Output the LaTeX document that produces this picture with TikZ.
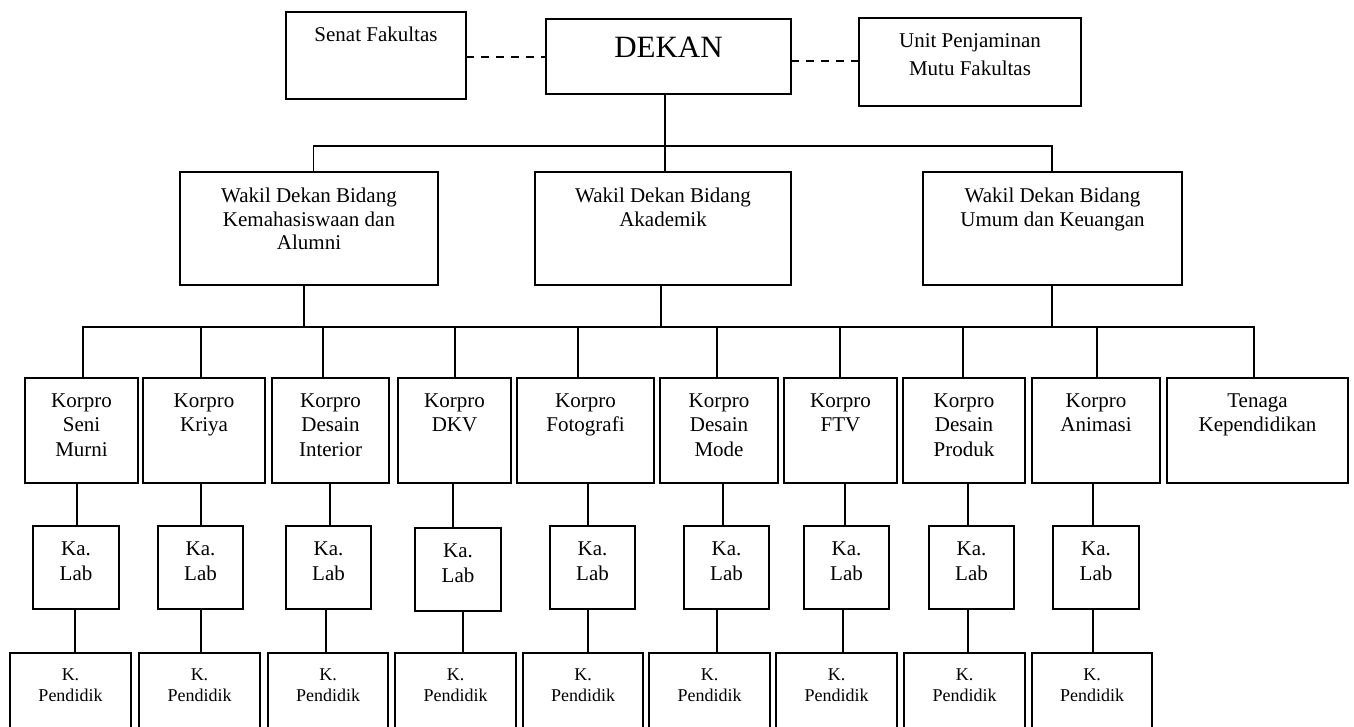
\documentclass[tikz,border=0pt]{standalone}
\usepackage{fontspec}
\setmainfont{Liberation Serif}
\newcommand\bxt[6]{\parbox[c][#2pt][t]{#1pt}{\centering\fontsize{#4pt}{#5pt}\selectfont\rule{0pt}{#3pt}\ignorespaces#6\par}}
\begin{document}
\begin{tikzpicture}[x=1pt,y=-1pt,
  box/.style={draw, line width=1.5pt, inner sep=0pt, outer sep=0pt, anchor=north west},
  conn/.style={line width=1.5pt},
  dashconn/.style={line width=1.5pt, dash pattern=on 8pt off 7pt}]
\useasboundingbox (0,0) rectangle (1354,727);
\clip (0,0) rectangle (1354,727);
% top level
\node[box] (senat) at (286,12) {\bxt{180}{87}{30}{21}{24}{Senat Fakultas}};
\node[box] (dekan) at (546,19) {\bxt{245}{75}{39}{31}{34}{DEKAN}};
\node[box] (upm) at (859,18) {\bxt{222}{88}{30}{21}{28}{Unit Penjaminan\\Mutu Fakultas}};
% wakil dekan
\node[box] (w1) at (180,172) {\bxt{258}{113}{31}{21}{23.3}{Wakil Dekan Bidang\\Kemahasiswaan dan\\Alumni}};
\node[box] (w2) at (535,172) {\bxt{256}{113}{31}{21}{23.3}{Wakil Dekan Bidang\\Akademik}};
\node[box] (w3) at (923,172) {\bxt{259}{113}{31}{21}{23.3}{Wakil Dekan Bidang\\Umum dan Keuangan}};
% korpro
\node[box] (k1) at (25,378) {\bxt{113}{105}{29}{21}{24.5}{Korpro\\Seni\\Murni}};
\node[box] (k2) at (143,378) {\bxt{122}{105}{29}{21}{24.5}{Korpro\\Kriya}};
\node[box] (k3) at (272,378) {\bxt{117}{105}{29}{21}{24.5}{Korpro\\Desain\\Interior}};
\node[box] (k4) at (398,378) {\bxt{113}{105}{29}{21}{24.5}{Korpro\\DKV}};
\node[box] (k5) at (517,378) {\bxt{137}{105}{29}{21}{24.5}{Korpro\\Fotografi}};
\node[box] (k6) at (660,378) {\bxt{118}{105}{29}{21}{24.5}{Korpro\\Desain\\Mode}};
\node[box] (k7) at (784,378) {\bxt{113}{105}{29}{21}{24.5}{Korpro\\FTV}};
\node[box] (k8) at (903,378) {\bxt{122}{105}{29}{21}{24.5}{Korpro\\Desain\\Produk}};
\node[box] (k9) at (1032,378) {\bxt{128}{105}{29}{21}{24.5}{Korpro\\Animasi}};
\node[box] (k10) at (1167,378) {\bxt{181}{105}{29}{21}{24.5}{Tenaga\\Kependidikan}};
% ka. lab
\node[box] (l1) at (33,526) {\bxt{86}{83}{29}{21}{25}{Ka.\\Lab}};
\node[box] (l2) at (158,526) {\bxt{85}{83}{29}{21}{25}{Ka.\\Lab}};
\node[box] (l3) at (286,526) {\bxt{85}{83}{29}{21}{25}{Ka.\\Lab}};
\node[box] (l4) at (415,528) {\bxt{86}{83}{29}{21}{25}{Ka.\\Lab}};
\node[box] (l5) at (550,526) {\bxt{85}{83}{29}{21}{25}{Ka.\\Lab}};
\node[box] (l6) at (684,526) {\bxt{85}{83}{29}{21}{25}{Ka.\\Lab}};
\node[box] (l7) at (804,526) {\bxt{85}{83}{29}{21}{25}{Ka.\\Lab}};
\node[box] (l8) at (929,526) {\bxt{85}{83}{29}{21}{25}{Ka.\\Lab}};
\node[box] (l9) at (1053,526) {\bxt{86}{83}{29}{21}{25}{Ka.\\Lab}};
% k. pendidik
\node[box] (p1) at (10,653) {\bxt{121}{95}{27}{18}{21}{K.\\Pendidik}};
\node[box] (p2) at (139,653) {\bxt{121}{95}{27}{18}{21}{K.\\Pendidik}};
\node[box] (p3) at (268,653) {\bxt{120}{95}{27}{18}{21}{K.\\Pendidik}};
\node[box] (p4) at (395,653) {\bxt{121}{95}{27}{18}{21}{K.\\Pendidik}};
\node[box] (p5) at (523,653) {\bxt{120}{95}{27}{18}{21}{K.\\Pendidik}};
\node[box] (p6) at (649,653) {\bxt{121}{95}{27}{18}{21}{K.\\Pendidik}};
\node[box] (p7) at (776,653) {\bxt{121}{95}{27}{18}{21}{K.\\Pendidik}};
\node[box] (p8) at (904,653) {\bxt{121}{95}{27}{18}{21}{K.\\Pendidik}};
\node[box] (p9) at (1032,653) {\bxt{120}{95}{27}{18}{21}{K.\\Pendidik}};
% dashed links
\draw[dashconn] (senat.east |- 0,57) -- (dekan.west |- 0,57);
\draw[dashconn] (dekan.east |- 0,61) -- (upm.west |- 0,61);
% dekan to wakil
\coordinate (tL) at (313.5,146);
\coordinate (tR) at (1052,146);
\draw[conn] (dekan.south -| 665,0) -- (w2.north -| 665,0);
\draw[conn] (w1.north -| tL) -- (tL) -- (tR) -- (w3.north -| tR);
% wakil to korpro bus
\coordinate (bL) at (83,327);
\coordinate (bR) at (1254,327);
\draw[conn] (k1.north -| bL) -- (bL) -- (bR) -- (k10.north -| bR);
\draw[conn] (w1.south -| 304,0) -- (bL -| 304,0);
\draw[conn] (w2.south -| 661,0) -- (bL -| 661,0);
\draw[conn] (w3.south -| 1052,0) -- (bL -| 1052,0);
\foreach \n/\x in {2/201,3/323,4/455,5/578,6/717,7/840,8/963,9/1097}
  \draw[conn] (k\n.north -| \x,0) -- (bL -| \x,0);
% korpro to ka.lab
\foreach \n/\x in {1/77,2/201,3/330,4/453,5/588,6/723,7/845,8/968,9/1093}
  \draw[conn] (k\n.south -| \x,0) -- (l\n.north -| \x,0);
% ka.lab to k.pendidik
\foreach \n/\x in {1/75,2/201,3/326,4/463,5/588,6/717,7/843,8/968,9/1093}
  \draw[conn] (l\n.south -| \x,0) -- (p\n.north -| \x,0);
\end{tikzpicture}
\end{document}
